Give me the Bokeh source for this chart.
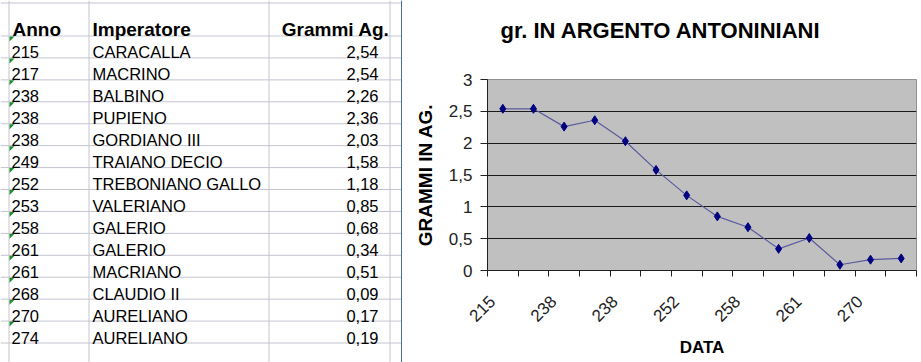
import math
from bokeh.plotting import figure
from bokeh.layouts import row
from bokeh.models import Range1d, FixedTicker, Title
from bokeh.core.properties import value
from bokeh.embed import file_html
from bokeh.resources import INLINE

# ---------------- data ----------------
header = ["Anno", "Imperatore", "Grammi Ag."]
anni = ["215", "217", "238", "238", "238", "249", "252", "253", "258",
        "261", "261", "268", "270", "274"]
imperatori = ["CARACALLA", "MACRINO", "BALBINO", "PUPIENO", "GORDIANO III",
              "TRAIANO DECIO", "TREBONIANO GALLO", "VALERIANO", "GALERIO",
              "GALERIO", "MACRIANO", "CLAUDIO II", "AURELIANO", "AURELIANO"]
grammi = [2.54, 2.54, 2.26, 2.36, 2.03, 1.58, 1.18, 0.85, 0.68, 0.34,
          0.51, 0.09, 0.17, 0.19]
y_ticks = [0, 0.5, 1, 1.5, 2, 2.5, 3]
chart_title = "gr. IN ARGENTO ANTONINIANI"
y_title = "GRAMMI IN AG."
x_title = "DATA"

FONT = "Liberation Sans"

# ---------------- layout constants (table) ----------------
TW, H = 402, 362
HEADER_TOP = 2.0
HEADER_BOTTOM = 35.0
ROW_H = 21.93
COL_EDGES = [8.5, 88.5, 268.5, 389.5]
GRID_COLOR = "#c4c4d0"

n = len(anni)
t = figure(width=TW, height=H, x_range=Range1d(0, TW), y_range=Range1d(H, 0),
           x_axis_type=None, y_axis_type=None, toolbar_location=None,
           output_backend="svg", min_border=0, min_border_left=0,
           min_border_right=0, min_border_top=0, min_border_bottom=0,
           outline_line_color=None, background_fill_color="white",
           border_fill_color="white", frame_align=False)

# row lines
row_lines = [HEADER_TOP + 0.5] + [HEADER_BOTTOM + 0.5 + ROW_H * k for k in range(n + 2)]
t.segment(x0=[0] * len(row_lines), x1=[TW] * len(row_lines),
          y0=row_lines, y1=row_lines, line_color=GRID_COLOR, line_width=1)
# column lines
t.segment(x0=COL_EDGES, x1=COL_EDGES, y0=[0] * len(COL_EDGES),
          y1=[H] * len(COL_EDGES), line_color=GRID_COLOR, line_width=1)
# chart box border
t.segment(x0=[TW - 0.75], x1=[TW - 0.75], y0=[0], y1=[H],
          line_color="#4a6ea8", line_width=1.5)

# header texts
t.text(x=[12, 92], y=[29, 29], text=header[:2], text_font=value(FONT),
       text_font_size="19px", text_font_style="bold", text_color="black",
       text_baseline="alphabetic", text_align="left")
t.text(x=[389], y=[29], text=header[2:], text_font=value(FONT),
       text_font_size="19px", text_font_style="bold", text_color="black",
       text_baseline="alphabetic", text_align="right")

baselines = [HEADER_BOTTOM + ROW_H * (i + 1) - 5 for i in range(n)]
t.text(x=[11] * n, y=baselines, text=anni, text_font=value(FONT),
       text_font_size="16.5px", text_color="black",
       text_baseline="alphabetic", text_align="left")
t.text(x=[92] * n, y=baselines, text=imperatori, text_font=value(FONT),
       text_font_size="16.5px", text_color="black",
       text_baseline="alphabetic", text_align="left")
t.text(x=[378] * n, y=baselines,
       text=[f"{v:.2f}".replace(".", ",") for v in grammi],
       text_font=value(FONT), text_font_size="16.5px", text_color="black",
       text_baseline="alphabetic", text_align="right")

# green "number stored as text" markers
tops = [HEADER_BOTTOM + ROW_H * i + 1 for i in range(n)]
t.patches(xs=[[9, 14, 9] for _ in tops], ys=[[y0, y0, y0 + 5] for y0 in tops],
          fill_color="#1e8c32", line_color=None)

# ---------------- chart ----------------
CW = 921 - TW
c = figure(width=CW, height=H, x_range=Range1d(-0.5, n - 0.5),
           y_range=Range1d(0, 3), toolbar_location=None, output_backend="svg",
           min_border_left=85, min_border_right=5, min_border_top=79,
           min_border_bottom=92, background_fill_color="#c0c0c0",
           border_fill_color="white", outline_line_color="#909090",
           title=None, frame_align=False)

# spacer between title and plot area, then the title itself
c.add_layout(Title(text=" ", text_font=FONT, text_font_size="18px"), "above")
c.add_layout(Title(text=chart_title, text_font=FONT, text_font_size="22px",
                   text_font_style="bold", text_color="black",
                   align="left", offset=13), "above")

xs = list(range(n))
LABEL_SHIFT = -0.35
label_pos = [i + LABEL_SHIFT for i in xs[::2]]
c.xaxis.ticker = FixedTicker(ticks=label_pos,
                             minor_ticks=[i - 0.5 for i in range(n + 1)])
c.xaxis.major_label_overrides = {p: anni[i] for p, i in zip(label_pos, xs[::2])}
c.xaxis.major_label_orientation = math.pi / 4
c.xaxis.major_tick_line_color = None
c.xaxis.minor_tick_in = 0
c.xaxis.minor_tick_out = 6
c.xaxis.minor_tick_line_color = "#202020"
c.xaxis.axis_line_color = "#202020"
c.xaxis.major_label_text_font = FONT
c.xaxis.major_label_text_font_size = "17px"
c.xaxis.major_label_text_color = "#222222"
c.xaxis.major_label_standoff = 22
c.xaxis.axis_label = x_title
c.xaxis.axis_label_text_font = FONT
c.xaxis.axis_label_text_font_size = "17px"
c.xaxis.axis_label_text_font_style = "bold"
c.xaxis.axis_label_text_color = "black"
c.xaxis.axis_label_standoff = 8

c.yaxis.ticker = FixedTicker(ticks=y_ticks)
c.yaxis.major_label_overrides = {float(v): f"{v:g}".replace(".", ",") for v in y_ticks}
c.yaxis.major_tick_in = 0
c.yaxis.major_tick_out = 7
c.yaxis.minor_tick_line_color = None
c.yaxis.major_tick_line_color = "#202020"
c.yaxis.axis_line_color = "#202020"
c.yaxis.major_label_text_font = FONT
c.yaxis.major_label_text_font_size = "17px"
c.yaxis.major_label_text_color = "#222222"
c.yaxis.major_label_standoff = 8
c.yaxis.axis_label = y_title
c.yaxis.axis_label_text_font = FONT
c.yaxis.axis_label_text_font_size = "19px"
c.yaxis.axis_label_text_font_style = "bold"
c.yaxis.axis_label_text_color = "black"
c.yaxis.axis_label_standoff = 10

c.xgrid.visible = False
c.ygrid.ticker = FixedTicker(ticks=y_ticks[1:-1])
c.ygrid.grid_line_color = "#1a1a1a"
c.ygrid.grid_line_width = 1

c.line(xs, grammi, line_color="#5a5a9c", line_width=1.2)
c.scatter(xs, grammi, marker="diamond", size=9, fill_color="#000080",
          line_color="#000080")

layout = row(t, c)
open("out.html", "w").write(file_html(layout, INLINE))
